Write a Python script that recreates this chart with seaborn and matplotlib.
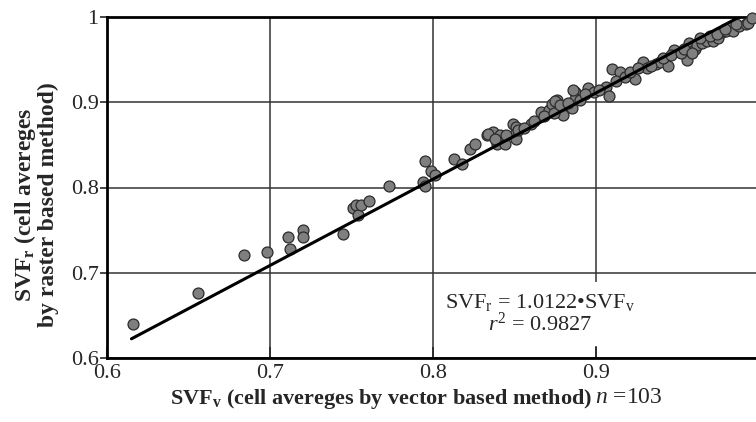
import matplotlib
matplotlib.use("Agg")
import matplotlib.pyplot as plt
import pandas as pd
import seaborn as sns

# ---------- data ----------
svf_vector = [
    0.616, 0.656, 0.684, 0.698, 0.712, 0.711, 0.720, 0.720, 0.745, 0.751,
    0.753, 0.754, 0.756, 0.761, 0.773,
    0.795, 0.799, 0.801, 0.794, 0.795, 0.813, 0.818, 0.823, 0.826, 0.833,
    0.837, 0.839,
    0.834, 0.841, 0.839, 0.844, 0.849, 0.851, 0.850, 0.851, 0.860, 0.866,
    0.871, 0.873, 0.876, 0.879, 0.880, 0.885, 0.887, 0.887,
    0.875, 0.886, 0.895, 0.899, 0.906, 0.908, 0.910, 0.915, 0.924, 0.929,
    0.931, 0.937, 0.939, 0.944, 0.948, 0.956, 0.957, 0.961, 0.962, 0.965,
    0.968, 0.972, 0.975, 0.977, 0.980, 0.983, 0.984, 0.988, 0.992, 0.993,
    0.996,
    0.838, 0.845, 0.852, 0.856, 0.862, 0.868, 0.874, 0.878, 0.883, 0.890,
    0.893, 0.902, 0.912, 0.918, 0.921, 0.926, 0.934, 0.941, 0.946, 0.952,
    0.954, 0.959, 0.964, 0.970, 0.974, 0.979, 0.986,
]
svf_raster = [
    0.640, 0.676, 0.721, 0.724, 0.728, 0.742, 0.750, 0.742, 0.745, 0.776,
    0.779, 0.768, 0.779, 0.784, 0.802,
    0.831, 0.819, 0.815, 0.807, 0.802, 0.834, 0.827, 0.845, 0.851, 0.862,
    0.865, 0.853,
    0.863, 0.861, 0.851, 0.851, 0.875, 0.871, 0.863, 0.857, 0.875, 0.889,
    0.891, 0.898, 0.903, 0.893, 0.885, 0.893, 0.912, 0.904,
    0.902, 0.914, 0.917, 0.912, 0.918, 0.907, 0.939, 0.935, 0.927, 0.947,
    0.940, 0.945, 0.947, 0.943, 0.961, 0.949, 0.969, 0.963, 0.967, 0.969,
    0.972, 0.972, 0.975, 0.982, 0.983, 0.988, 0.983, 0.990, 0.992, 0.993,
    0.999,
    0.857, 0.862, 0.868, 0.870, 0.878, 0.884, 0.887, 0.897, 0.899, 0.903,
    0.910, 0.914, 0.925, 0.930, 0.936, 0.940, 0.942, 0.952, 0.955, 0.958,
    0.962, 0.958, 0.975, 0.978, 0.980, 0.986, 0.992,
]
slope = 1.0122
fit_x = [0.615, 0.988]
x_ticks = [0.6, 0.7, 0.8, 0.9]
y_ticks = [0.6, 0.7, 0.8, 0.9, 1.0]
y_tick_labels = ["0.6", "0.7", "0.8", "0.9", "1"]

df = pd.DataFrame({"vec": svf_vector, "ras": svf_raster})
fit = pd.DataFrame({"x": fit_x, "y": [slope * v for v in fit_x]})

# ---------- style ----------
sns.set_style("white")
plt.rcParams["font.family"] = ["Liberation Serif", "DejaVu Serif"]
plt.rcParams["mathtext.fontset"] = "custom"
plt.rcParams["mathtext.rm"] = "Liberation Serif"
plt.rcParams["mathtext.it"] = "Liberation Serif:italic"
plt.rcParams["mathtext.bf"] = "Liberation Serif:bold"

fig = plt.figure(figsize=(7.56, 4.22), dpi=100)
ax = fig.add_axes([107 / 756, 1 - 358 / 422, 652 / 756, 341 / 422])

sns.scatterplot(data=df, x="vec", y="ras", ax=ax, s=62, color="#7f7f7f",
                edgecolor="#2b2b2b", linewidth=0.9, zorder=3, clip_on=False)
sns.lineplot(data=fit, x="x", y="y", ax=ax, color="black", linewidth=2.2,
             zorder=4)

ax.set_xlim(0.6, 1.0)
ax.set_ylim(0.6, 1.0)
ax.set_xticks(x_ticks)
ax.set_xticklabels([f"{t:.1f}" for t in x_ticks])
ax.set_yticks(y_ticks)
ax.set_yticklabels(y_tick_labels)
ax.grid(True, color="#333333", linewidth=1.1)
ax.set_axisbelow(True)

for side in ["left", "bottom", "top"]:
    ax.spines[side].set_color("black")
    ax.spines[side].set_linewidth(2.0)
ax.spines["right"].set_visible(False)

ax.tick_params(axis="y", direction="out", length=5, width=1.2, labelsize=16,
               pad=1, left=True)
ax.tick_params(axis="x", direction="in", length=8, width=1.2, labelsize=16,
               pad=4, bottom=True)

# axis labels
ax.set_ylabel("$\\mathbf{SVF_r}$ (cell avereges\nby raster based method)",
              fontsize=17, fontweight="bold", linespacing=1.0)
ax.yaxis.set_label_coords(-0.074, 0.45)
ax.set_xlabel("$\\mathbf{SVF_v}$ (cell avereges by vector based method)",
              fontsize=16, fontweight="bold", labelpad=2)
ax.xaxis.set_label_coords(0.42, -0.085)
ax.text(0.748, -0.085, "$n$ =103", transform=ax.transAxes, fontsize=17,
        ha="left", va="top")

# regression equation box
ax.text(0.8655, 0.652,
        "$\\mathrm{SVF_r}$ = 1.0122•$\\mathrm{SVF_v}$\n$r^2$ = 0.9827",
        fontsize=16, ha="center", va="center", linespacing=1.0, zorder=5,
        bbox=dict(facecolor="white", edgecolor="none", pad=7))

fig.savefig("out.png", dpi=100)
